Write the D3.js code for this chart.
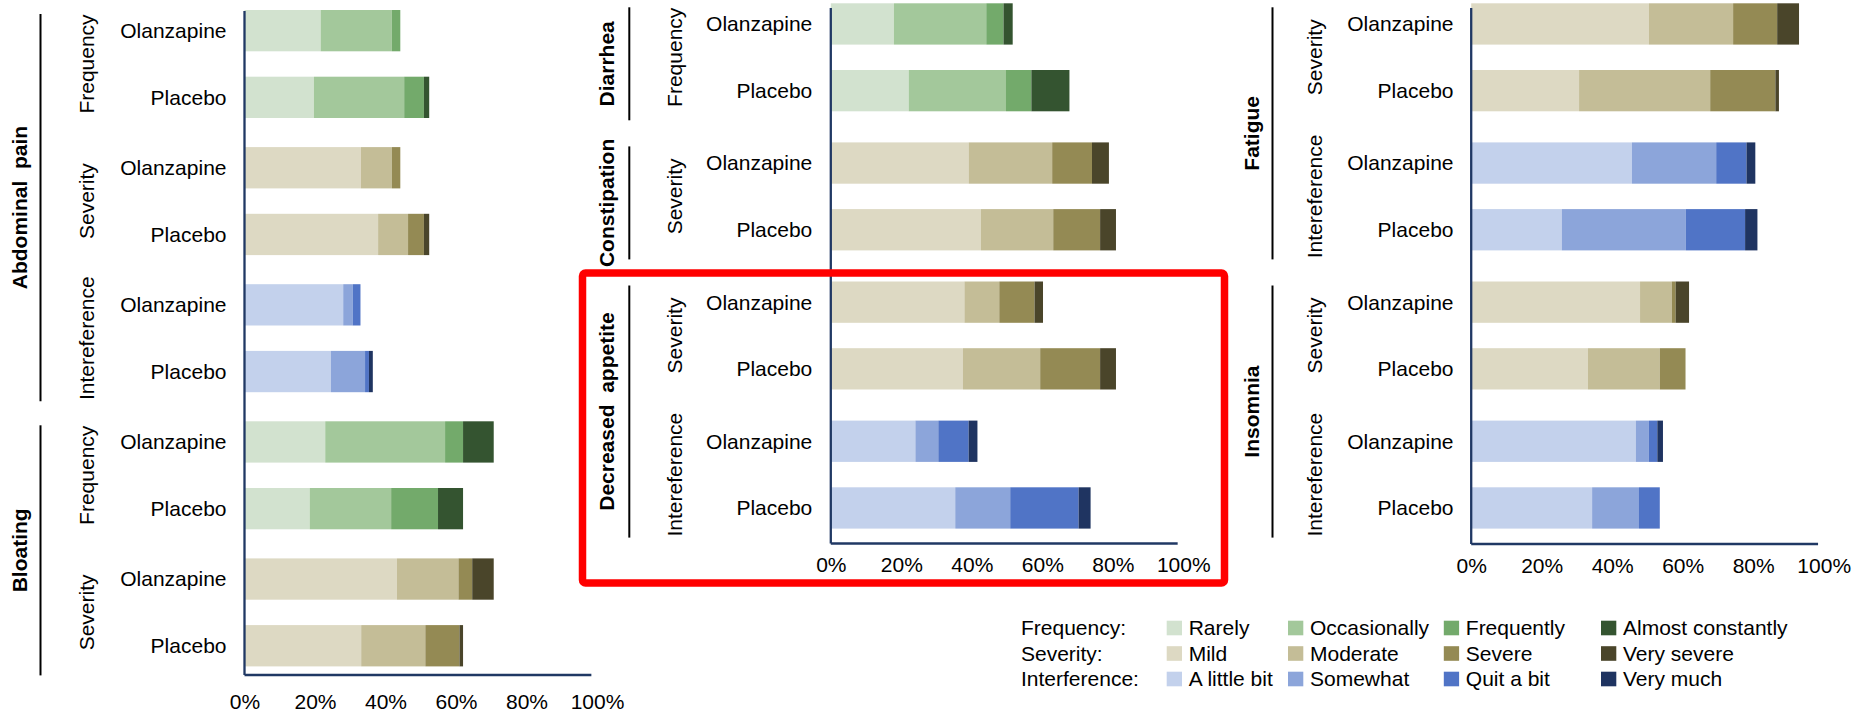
<!DOCTYPE html>
<html>
<head>
<meta charset="utf-8">
<script src="https://cdn.jsdelivr.net/npm/d3@7"></script>
<style>
  body { margin: 0; background: #fff; }
  svg { display: block; }
  text { font-family: "Liberation Sans", Arial, sans-serif; fill: #000; }
</style>
</head>
<body>
<svg id="chart" width="1857" height="712"></svg>
<script>
// ---- data ---------------------------------------------------------------
const arms = ["Olanzapine", "Placebo"];
const tickValues = [0, 20, 40, 60, 80, 100];

const frequencyLevels = ["Rarely", "Occasionally", "Frequently", "Almost constantly"];
const severityLevels = ["Mild", "Moderate", "Severe", "Very severe"];
const interferenceLevels = ["A little bit", "Somewhat", "Quit a bit", "Very much"];

const frequencyColors = ["#d2e2cf", "#a3c89b", "#73aa6b", "#345430"];
const severityColors = ["#ddd9c3", "#c4bd97", "#948a54", "#4a452a"];
const interferenceColors = ["#c3d1ec", "#8ca5da", "#5074c6", "#1f3461"];

// [symptom, dimension, Olanzapine %, Placebo %] — percentages per response level
const leftRows = [
  ["Abdominal  pain", "Frequency", [21.6, 20.2, 2.4, 0], [19.7, 25.6, 5.6, 1.5]],
  ["Abdominal  pain", "Severity", [33.0, 8.8, 2.4, 0], [37.9, 8.5, 4.5, 1.5]],
  ["Abdominal  pain", "Intereference", [28.0, 2.7, 2.2, 0], [24.5, 9.7, 1.1, 1.1]],
  ["Bloating", "Frequency", [22.9, 34.0, 5.1, 8.7], [18.5, 23.1, 13.3, 7.1]],
  ["Bloating", "Severity", [43.2, 17.5, 3.9, 6.1], [33.1, 18.2, 9.7, 1.0]]
];
const middleRows = [
  ["Diarrhea", "Frequency", [17.9, 26.2, 4.9, 2.6], [22.1, 27.6, 7.2, 10.8]],
  ["Constipation", "Severity", [39.1, 23.7, 11.3, 4.8], [42.6, 20.5, 13.3, 4.5]],
  ["Decreased  appetite", "Severity", [37.9, 9.9, 10.0, 2.4], [37.5, 21.9, 17.0, 4.5]],
  ["Decreased  appetite", "Intereference", [24.0, 6.5, 8.6, 2.5], [35.3, 15.6, 19.4, 3.4]]
];
const rightRows = [
  ["Fatigue", "Severity", [50.4, 23.9, 12.5, 6.2], [30.6, 37.2, 18.5, 1.0]],
  ["Fatigue", "Intereference", [45.6, 23.9, 8.6, 2.5], [25.7, 35.2, 16.8, 3.5]],
  ["Insomnia", "Severity", [47.9, 9.0, 1.1, 3.8], [33.1, 20.4, 7.3, 0]],
  ["Insomnia", "Intereference", [46.7, 3.7, 2.4, 1.6], [34.3, 13.3, 5.9, 0]]
];

// ---- styling ------------------------------------------------------------
const paletteFor = {
  Frequency: frequencyColors,
  Severity: severityColors,
  Intereference: interferenceColors
};
const AXIS_COLOR = "#203864";
const FONT = 21;

const svg = d3.select("#chart");

const panels = [
  { rows: leftRows, x0: 244.5, firstTop: 10, pairStep: 137.1, axisTop: 11, axisY: 675, tickY: 702,
    groupOff: -225, lineOff: -204, subOff: -158, catOff: -18 },
  { rows: middleRows, x0: 830.8, firstTop: 3.3, pairStep: 139.1, axisTop: 8, axisY: 543.5, tickY: 565,
    groupOff: -224.5, lineOff: -201.5, subOff: -156, catOff: -18.5 },
  { rows: rightRows, x0: 1471.2, firstTop: 3.3, pairStep: 139.1, axisTop: 8, axisY: 544, tickY: 565.5,
    groupOff: -219.5, lineOff: -198.7, subOff: -156.6, catOff: -17.7 }
];

const ROW_GAP = 66.7;   // distance between the two arms of one pair
const BAR_H = 41.3;
const PLOT_W = 352.5;   // width of 0–100 %

function drawPanel(p) {
  const g = svg.append("g");
  const x = d3.scaleLinear().domain([0, 100]).range([p.x0, p.x0 + PLOT_W]);
  const yPair = d3.scaleLinear().domain([0, 1]).range([p.firstTop, p.firstTop + p.pairStep]);
  const yArm = d3.scalePoint().domain(arms).range([0, ROW_GAP]);

  // flatten into one record per bar
  const bars = [];
  p.rows.forEach((r, pi) => {
    arms.forEach((arm, ai) => {
      const vals = r[2 + ai];
      const ends = d3.cumsum(vals);
      bars.push({
        pair: pi, symptom: r[0], dim: r[1], arm,
        top: yPair(pi) + yArm(arm),
        segs: vals.map((v, k) => ({ k, x0: ends[k] - v, x1: ends[k] }))
      });
    });
  });

  // stacked segments
  const barG = g.selectAll("g.bar").data(bars).join("g").attr("class", "bar");
  barG.selectAll("rect").data(d => d.segs.filter(s => s.x1 > s.x0).map(s => ({ ...s, d })))
    .join("rect")
    .attr("x", s => x(s.x0))
    .attr("width", s => x(s.x1) - x(s.x0))
    .attr("y", s => s.d.top)
    .attr("height", BAR_H)
    .attr("fill", s => paletteFor[s.d.dim][s.k]);

  // arm labels
  g.selectAll("text.arm").data(bars).join("text").attr("class", "arm")
    .attr("x", p.x0 + p.catOff)
    .attr("y", d => d.top + BAR_H / 2)
    .attr("dy", "0.35em")
    .attr("text-anchor", "end")
    .attr("font-size", FONT)
    .text(d => d.arm);

  // dimension labels (one per pair)
  const pairMid = pi => yPair(pi) + (ROW_GAP + BAR_H) / 2;
  g.selectAll("text.dim").data(p.rows).join("text").attr("class", "dim")
    .attr("transform", (r, pi) => `translate(${p.x0 + p.subOff},${pairMid(pi)}) rotate(-90)`)
    .attr("dy", "0.35em")
    .attr("text-anchor", "middle")
    .attr("font-size", FONT)
    .text(r => r[1]);

  // symptom groups with separator lines
  const groups = d3.groups(p.rows.map((r, pi) => ({ name: r[0], pi })), d => d.name).map(([name, items]) => {
    const first = d3.min(items, d => d.pi), last = d3.max(items, d => d.pi);
    const y1 = yPair(first) + 4;
    const y2 = yPair(last) + ROW_GAP + BAR_H + 9;
    return { name, y1, y2 };
  });
  g.selectAll("line.sep").data(groups).join("line").attr("class", "sep")
    .attr("x1", p.x0 + p.lineOff).attr("x2", p.x0 + p.lineOff)
    .attr("y1", d => d.y1).attr("y2", d => d.y2)
    .attr("stroke", "#000").attr("stroke-width", 2);
  g.selectAll("text.grp").data(groups).join("text").attr("class", "grp")
    .attr("transform", d => `translate(${p.x0 + p.groupOff},${(d.y1 + d.y2) / 2}) rotate(-90)`)
    .attr("dy", "0.35em")
    .attr("text-anchor", "middle")
    .attr("font-size", FONT)
    .attr("font-weight", "bold")
    .style("white-space", "pre")
    .text(d => d.name);

  // axes
  g.append("line")
    .attr("x1", x(0)).attr("x2", x(0))
    .attr("y1", p.axisTop).attr("y2", p.axisY)
    .attr("stroke", AXIS_COLOR).attr("stroke-width", 2.3);
  g.append("line")
    .attr("x1", x(0)).attr("x2", x(98.4))
    .attr("y1", p.axisY).attr("y2", p.axisY)
    .attr("stroke", AXIS_COLOR).attr("stroke-width", 2.3);

  const axis = d3.axisBottom(x).tickValues(tickValues).tickFormat(d => d + "%").tickSize(0).tickPadding(0);
  const ag = g.append("g").attr("transform", `translate(0,${p.tickY})`).call(axis);
  ag.select(".domain").remove();
  ag.selectAll("text")
    .attr("y", 0).attr("dy", "0.35em")
    .attr("font-size", FONT)
    .attr("font-family", '"Liberation Sans", Arial, sans-serif')
    .attr("fill", "#000");
}

panels.forEach(drawPanel);

// highlight frame around the decreased-appetite block
svg.append("rect")
  .attr("x", 582.5).attr("y", 273)
  .attr("width", 642).attr("height", 310)
  .attr("rx", 3)
  .attr("fill", "none")
  .attr("stroke", "#ff0000")
  .attr("stroke-width", 7.5);

// ---- legend -------------------------------------------------------------
const legendRows = [
  { title: "Frequency:", levels: frequencyLevels, colors: frequencyColors },
  { title: "Severity:", levels: severityLevels, colors: severityColors },
  { title: "Interference:", levels: interferenceLevels, colors: interferenceColors }
];
const legendCols = [1166.7, 1288, 1443.8, 1601];
const legendY = d3.scalePoint().domain(legendRows.map(d => d.title)).range([628, 679]);

const lg = svg.append("g");
const lrow = lg.selectAll("g").data(legendRows).join("g")
  .attr("transform", d => `translate(0,${legendY(d.title)})`);
lrow.append("text")
  .attr("x", 1021).attr("dy", "0.35em")
  .attr("font-size", FONT)
  .text(d => d.title);
const item = lrow.selectAll("g.item").data(d => d.levels.map((l, i) => ({ l, c: d.colors[i], i })))
  .join("g").attr("class", "item")
  .attr("transform", d => `translate(${legendCols[d.i]},0)`);
item.append("rect").attr("x", 0).attr("y", -7.3).attr("width", 15.3).attr("height", 14.6).attr("fill", d => d.c);
item.append("text").attr("x", 22).attr("dy", "0.35em").attr("font-size", FONT).text(d => d.l);
</script>
</body>
</html>
